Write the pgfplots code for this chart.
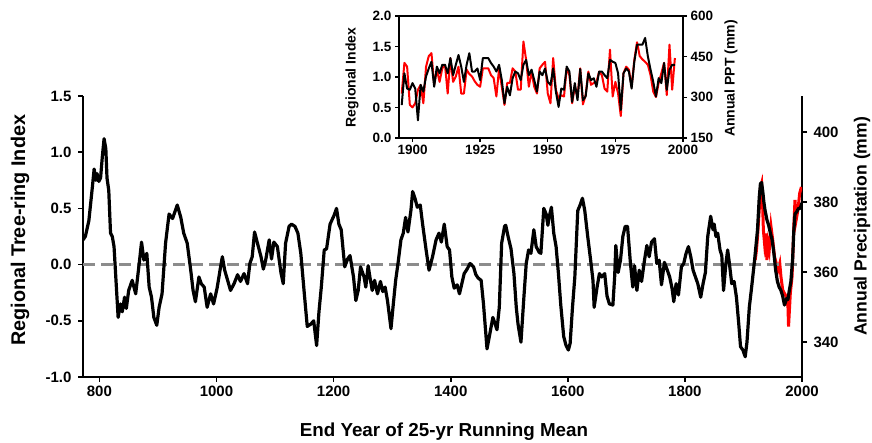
\documentclass[border=0pt]{standalone}
\usepackage{fontspec}
\setmainfont{Liberation Sans}
\usepackage{pgfplots}
\usepackage{pgfplotstable}
\pgfplotsset{compat=1.18}

% 25-yr running mean of the regional tree-ring index
\pgfplotstableread{
yr idx
772 0.22
776 0.25
782 0.39
788 0.69
791 0.85
794 0.75
796 0.81
799 0.74
802 0.77
805 0.96
808 1.12
811 1.03
813 0.77
816 0.66
819 0.28
822 0.25
825 0.16
828 -0.11
832 -0.47
836 -0.35
839 -0.42
843 -0.29
846 -0.39
850 -0.23
856 -0.14
862 -0.26
868 0.01
872 0.20
876 0.04
881 0.10
885 -0.20
889 -0.29
893 -0.47
898 -0.54
902 -0.38
907 -0.26
913 0.19
919 0.45
925 0.41
929 0.47
933 0.53
939 0.42
944 0.28
950 0.19
956 -0.05
960 -0.23
964 -0.33
970 -0.11
974 -0.17
979 -0.20
984 -0.38
990 -0.26
995 -0.35
1001 -0.21
1007 -0.02
1010 0.07
1014 -0.05
1019 -0.14
1024 -0.23
1030 -0.17
1036 -0.09
1041 -0.15
1047 -0.08
1053 -0.17
1057 0.01
1061 0.07
1065 0.29
1070 0.19
1076 0.07
1080 -0.04
1084 0.04
1090 0.22
1094 0.05
1098 0.20
1104 0.16
1110 -0.07
1114 -0.17
1118 0.19
1124 0.34
1128 0.36
1134 0.34
1139 0.28
1144 0.10
1150 -0.26
1155 -0.55
1161 -0.53
1166 -0.50
1171 -0.72
1175 -0.42
1179 -0.20
1184 0.13
1188 0.14
1194 0.36
1201 0.44
1205 0.50
1209 0.36
1213 0.31
1219 -0.02
1224 0.05
1228 0.08
1234 -0.11
1238 -0.32
1242 -0.23
1246 -0.02
1252 -0.11
1255 -0.20
1259 -0.01
1262 -0.11
1266 -0.23
1270 -0.14
1275 -0.26
1280 -0.15
1284 -0.24
1288 -0.20
1292 -0.32
1298 -0.57
1302 -0.35
1306 -0.14
1310 0.01
1315 0.22
1319 0.28
1323 0.42
1327 0.29
1332 0.48
1335 0.65
1339 0.59
1343 0.51
1348 0.53
1352 0.36
1358 0.13
1363 -0.05
1369 0.07
1375 0.22
1380 0.28
1384 0.20
1389 0.36
1394 0.16
1398 0.13
1402 -0.11
1406 -0.21
1411 -0.18
1415 -0.26
1419 -0.17
1423 -0.08
1428 -0.04
1433 0.01
1439 -0.02
1443 -0.09
1447 -0.12
1452 -0.14
1456 -0.35
1462 -0.75
1466 -0.64
1472 -0.47
1476 -0.53
1479 -0.58
1483 -0.38
1487 0.19
1492 0.34
1494 0.35
1498 0.25
1503 0.14
1508 -0.08
1512 -0.38
1515 -0.53
1520 -0.69
1525 -0.29
1529 0.01
1533 0.13
1537 0.10
1542 0.31
1546 0.16
1551 0.11
1554 0.10
1559 0.50
1563 0.45
1566 0.35
1568 0.42
1572 0.51
1576 0.28
1580 0.16
1584 -0.08
1588 -0.36
1593 -0.64
1597 -0.72
1601 -0.76
1604 -0.70
1608 -0.38
1612 -0.11
1617 0.48
1621 0.53
1625 0.59
1629 0.48
1634 0.25
1639 0.04
1643 -0.14
1645 -0.38
1650 -0.20
1654 -0.08
1658 -0.11
1663 -0.08
1667 -0.28
1671 -0.35
1677 -0.36
1680 -0.11
1682 0.17
1686 -0.07
1690 0.04
1694 0.25
1698 0.34
1702 0.34
1707 0.01
1711 -0.20
1714 -0.01
1718 -0.23
1722 -0.05
1726 -0.15
1731 0.04
1735 0.17
1739 0.07
1743 0.20
1748 0.23
1752 0.01
1756 0.04
1760 -0.18
1765 0.02
1770 -0.05
1774 -0.11
1778 -0.21
1781 -0.33
1785 -0.17
1789 -0.27
1794 -0.02
1798 0.01
1802 0.10
1806 0.16
1810 0.07
1814 -0.05
1818 -0.11
1822 -0.17
1827 -0.29
1831 -0.17
1835 -0.07
1839 0.25
1844 0.43
1848 0.31
1850 0.36
1853 0.25
1856 0.28
1860 0.13
1863 0.08
1866 -0.23
1870 0.01
1873 0.13
1876 0.01
1880 -0.17
1884 -0.15
1888 -0.29
1892 -0.53
1895 -0.73
1899 -0.76
1903 -0.82
1906 -0.69
1910 -0.38
1914 -0.20
1919 0.04
1924 0.31
1927 0.60
1929 0.72
1931 0.73
1933 0.65
1935 0.55
1937 0.48
1940 0.40
1943 0.35
1946 0.28
1949 0.22
1952 0.10
1955 -0.05
1958 -0.15
1961 -0.20
1964 -0.23
1967 -0.28
1970 -0.36
1972 -0.33
1974 -0.30
1976 -0.31
1978 -0.24
1981 -0.15
1984 0.05
1986 0.30
1988 0.45
1991 0.47
1994 0.50
1997 0.50
2000 0.55
}\treering

% 25-yr running mean of annual precipitation (mm)
\pgfplotstableread{
yr ppt
1920 363.4
1922 366.0
1924 370.0
1927 378.0
1929 384.0
1931 385.3
1933 377.7
1934 372.0
1936 368.2
1938 371.0
1940 363.4
1942 368.2
1944 366.3
1947 373.0
1950 369.1
1953 364.4
1956 362.5
1959 360.6
1962 362.5
1964 358.7
1967 354.9
1970 353.9
1973 353.0
1976 350.1
1977 344.4
1980 353.9
1983 358.7
1986 373.0
1988 380.6
1990 374.9
1993 377.7
1996 382.5
1999 384.3
}\pptmean

% inset: annual regional index and annual PPT
\pgfplotstableread{
yr idx ppt
1896 0.54 314
1897 1.06 427
1898 0.81 413
1899 0.79 272
1900 0.90 263
1901 0.81 278
1902 0.29 328
1903 0.87 346
1904 0.76 278
1905 1.01 413
1906 1.14 452
1907 1.25 463
1908 0.84 346
1909 1.17 402
1910 1.06 357
1911 1.20 407
1912 1.20 420
1913 1.06 314
1914 1.31 445
1915 1.03 357
1916 1.20 377
1917 1.36 413
1918 1.17 314
1919 0.92 314
1920 1.20 402
1921 1.39 386
1922 1.09 377
1923 1.09 359
1924 1.14 346
1925 0.95 339
1926 1.31 407
1927 1.31 407
1928 1.31 407
1929 1.23 382
1930 1.17 371
1931 1.09 303
1932 1.20 407
1933 0.95 339
1934 0.57 272
1935 0.84 353
1936 0.70 353
1937 0.98 407
1938 1.09 395
1939 1.06 328
1940 0.95 328
1941 1.20 506
1942 1.28 438
1943 1.03 339
1944 1.12 395
1945 0.95 339
1946 0.76 314
1947 1.09 407
1948 1.03 420
1949 1.14 431
1950 0.92 314
1951 0.87 278
1952 1.14 445
1953 0.76 328
1954 0.51 296
1955 0.81 308
1956 0.79 303
1957 1.17 407
1958 1.09 382
1959 0.59 278
1960 0.90 339
1961 0.62 303
1962 1.13 407
1963 0.62 274
1964 0.68 308
1965 1.06 395
1966 0.95 346
1967 0.98 353
1968 0.84 357
1969 1.09 395
1970 1.09 382
1971 1.03 332
1972 0.98 321
1973 1.28 476
1974 1.25 303
1975 1.23 357
1976 1.06 314
1977 0.46 231
1978 1.06 389
1979 1.14 413
1980 1.09 402
1981 0.81 339
1982 1.25 438
1983 1.53 503
1984 1.53 452
1985 1.53 440
1986 1.64 431
1987 1.34 420
1988 1.12 382
1989 0.92 321
1990 0.68 301
1991 0.98 353
1992 0.90 389
1993 1.23 427
1994 0.79 308
1995 1.12 494
1996 1.20 328
1997 1.20 445
}\annual

\tikzset{
  leftfont/.style={font=\fontsize{19.8}{21}\selectfont\bfseries},
  bigfont/.style={font=\fontsize{18.8}{20}\selectfont\bfseries},
  rightfont/.style={font=\fontsize{17.6}{19}\selectfont\bfseries},
  smallfont/.style={font=\fontsize{14}{16}\selectfont\bfseries},
}
\pgfplotsset{
  base/.style={
    scale only axis,
    /pgf/number format/assume math mode=true,
    /pgf/number format/set thousands separator={},
    tick label style={font=\fontsize{15}{17}\selectfont\bfseries},
    tick align=outside,
    major tick length=5pt,
    every tick/.style={black,line width=1.6pt},
  },
  lines/.style={
    axis line style={line width=#1,-},
    every outer x axis line/.append style={-},
    every outer y axis line/.append style={-},
    every inner x axis line/.append style={-},
    every inner y axis line/.append style={-},
  },
  small/.style={
    tick label style={font=\fontsize{13.5}{15}\selectfont\bfseries},
    major tick length=4pt,
    every tick/.style={black,line width=1.4pt},
  },
}

\begin{document}
\begin{tikzpicture}
\useasboundingbox (0pt,0pt) rectangle (872pt,443pt);

% main chart, right axis (precipitation)
\begin{axis}[base,
  at={(83pt,66pt)}, anchor=south west, width=719pt, height=281pt,
  xmin=772, xmax=2000, ymin=330, ymax=410.3,
  hide x axis, axis y line*=right,
  ytick pos=right, yticklabel pos=right,
  ytick={340,360,380,400},
  yticklabel style={xshift=3pt},
  ylabel={Annual Precipitation (mm)},
  ylabel style={rightfont, at={(axis description cs:1.0834,0.536)}, anchor=center},
  lines=2.6pt,
]
\addplot[red, line width=3pt] table[x=yr, y=ppt] {\pptmean};
\end{axis}

% main chart, left axis (tree-ring index)
\begin{axis}[base,
  at={(83pt,66pt)}, anchor=south west, width=719pt, height=281pt,
  xmin=772, xmax=2000, ymin=-1, ymax=1.5,
  axis x line*=bottom, axis y line*=left,
  xtick pos=bottom, ytick pos=left,
  xtick={800,1000,...,2000},
  ytick={-1,-0.5,...,1.5},
  yticklabel style={xshift=-3pt, /pgf/number format/.cd, fixed, fixed zerofill, precision=1},
  xlabel={End Year of 25-yr Running Mean},
  ylabel={Regional Tree-ring Index},
  xlabel style={bigfont, at={(axis description cs:0.502,-0.196)}, anchor=center},
  ylabel style={leftfont, at={(axis description cs:-0.0876,0.522)}, anchor=center},
  lines=2.6pt,
]
\addplot[color=black!45, line width=3pt, dash pattern=on 12pt off 6pt] coordinates {(772,0) (2000,0)};
\addplot[black, line width=3.2pt, line join=round] table[x=yr, y=idx] {\treering};
\end{axis}

% inset, right axis (annual PPT)
\begin{axis}[base, small,
  at={(399pt,305pt)}, anchor=south west, width=284pt, height=122pt,
  xmin=1895, xmax=2000, ymin=150, ymax=600,
  hide x axis, axis y line*=right,
  ytick pos=right, yticklabel pos=right,
  ytick={150,300,450,600},
  ylabel={Annual PPT (mm)},
  ylabel style={smallfont, at={(axis description cs:1.169,0.488)}, anchor=center},
  lines=2.2pt,
]
\addplot[red, line width=2pt, line join=round] table[x=yr, y=ppt] {\annual};
\end{axis}

% inset, left axis (annual index)
\begin{axis}[base, small,
  at={(399pt,305pt)}, anchor=south west, width=284pt, height=122pt,
  xmin=1895, xmax=2000, ymin=0, ymax=2,
  xtick pos=bottom, ytick pos=left,
  xtick={1900,1925,...,2000},
  ytick={0,0.5,...,2},
  yticklabel style={/pgf/number format/.cd, fixed, fixed zerofill, precision=1},
  ylabel={Regional Index},
  ylabel style={smallfont, at={(axis description cs:-0.165,0.496)}, anchor=center},
  lines=2.2pt,
]
\addplot[black, line width=2pt, line join=round] table[x=yr, y=idx] {\annual};
\end{axis}
\end{tikzpicture}
\end{document}
